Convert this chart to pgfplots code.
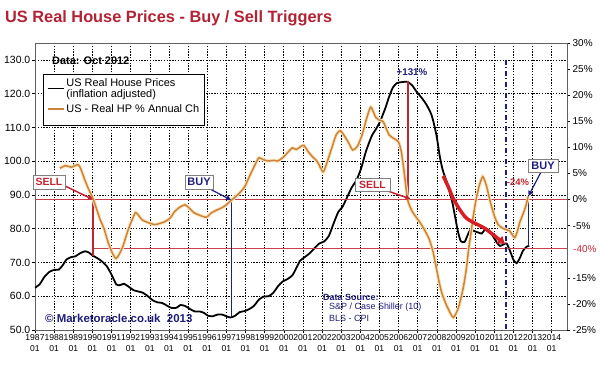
\documentclass[border=0pt]{standalone}
\usepackage{fontspec}
\setmainfont{Liberation Sans}
\usepackage{pgfplots}
\usepackage{pgfplotstable}
\pgfplotsset{compat=1.18}
\usetikzlibrary{arrows.meta}
\definecolor{titlered}{RGB}{178,34,52}
\definecolor{sellred}{RGB}{196,36,48}
\definecolor{linered}{RGB}{200,64,74}
\definecolor{navyb}{RGB}{30,30,125}
\definecolor{orangec}{RGB}{204,132,60}
\definecolor{orangeglow}{RGB}{252,228,186}
\definecolor{arrowred}{RGB}{214,30,36}

\pgfplotstableread{
x y
1987.0 62.5
1987.25 63.6
1987.5 65.8
1987.75 67.2
1988.0 67.8
1988.25 67.9
1988.45 69.2
1988.65 70.9
1988.9 71.6
1989.1 71.8
1989.35 72.7
1989.6 73.3
1989.8 73.0
1990.0 72.1
1990.25 71.3
1990.5 70.3
1990.75 68.9
1991.0 66.4
1991.25 63.5
1991.45 63.3
1991.65 63.7
1991.9 62.8
1992.15 61.8
1992.4 61.4
1992.65 61.0
1992.9 60.0
1993.15 58.8
1993.4 58.2
1993.65 58.0
1993.9 57.2
1994.15 56.5
1994.4 56.6
1994.6 57.4
1994.85 57.1
1995.1 56.2
1995.35 55.5
1995.6 55.5
1995.85 55.0
1996.05 54.2
1996.3 54.1
1996.55 54.6
1996.75 54.6
1997.0 54.1
1997.2 53.7
1997.45 54.2
1997.7 55.3
1997.95 55.6
1998.2 56.2
1998.45 57.2
1998.7 59.0
1998.95 59.9
1999.2 60.0
1999.45 61.0
1999.7 63.0
1999.95 64.4
2000.2 65.1
2000.45 66.2
2000.65 68.3
2000.85 70.5
2001.1 71.6
2001.35 72.7
2001.6 74.2
2001.85 75.6
2002.1 76.2
2002.35 77.8
2002.6 81.5
2002.85 85.0
2003.05 86.3
2003.3 89.2
2003.55 92.2
2003.8 94.4
2004.05 98.0
2004.3 103.0
2004.6 107.5
2004.85 109.8
2005.05 112.0
2005.3 115.6
2005.5 119.0
2005.7 121.8
2005.9 123.1
2006.15 123.4
2006.45 123.5
2006.7 122.5
2006.95 120.5
2007.2 118.8
2007.45 116.8
2007.7 114.0
2007.85 111.0
2008.0 107.0
2008.15 101.5
2008.3 97.5
2008.55 93.2
2008.8 88.0
2008.95 83.6
2009.1 79.2
2009.25 76.3
2009.45 76.1
2009.6 78.0
2009.75 79.6
2010.0 79.2
2010.2 78.8
2010.35 78.6
2010.55 80.0
2010.7 79.6
2010.95 77.6
2011.15 75.8
2011.3 74.9
2011.5 75.4
2011.65 75.6
2011.85 73.0
2012.0 70.8
2012.17 69.8
2012.35 71.5
2012.5 73.5
2012.7 74.7
2012.83 74.9
}\blackdata

\pgfplotstableread{
x y
1988.3 6.0
1988.6 6.5
1988.9 6.2
1989.25 6.7
1989.4 5.8
1989.6 3.8
1989.8 2.0
1990.05 0.0
1990.4 -3.8
1990.6 -5.5
1990.83 -8.3
1991.05 -10.3
1991.23 -11.3
1991.4 -10.5
1991.6 -8.9
1991.85 -6.0
1992.05 -4.1
1992.25 -2.5
1992.4 -3.0
1992.6 -3.9
1992.9 -4.4
1993.25 -4.8
1993.5 -4.6
1993.75 -4.3
1994.05 -3.6
1994.3 -2.3
1994.55 -1.5
1994.84 -1.0
1995.05 -1.6
1995.3 -2.5
1995.6 -3.0
1995.95 -3.4
1996.2 -2.6
1996.45 -2.1
1996.8 -1.5
1997.0 -1.0
1997.27 -0.1
1997.5 0.6
1997.7 1.3
1997.95 2.4
1998.2 4.4
1998.45 6.3
1998.7 8.0
1998.95 7.6
1999.2 7.4
1999.5 7.5
1999.7 7.4
2000.0 8.2
2000.2 9.0
2000.45 9.9
2000.65 9.6
2000.9 10.2
2001.05 10.4
2001.25 9.3
2001.5 8.2
2001.75 7.3
2002.05 5.3
2002.25 7.0
2002.5 9.8
2002.75 12.5
2002.95 13.2
2003.15 12.3
2003.4 10.8
2003.6 9.5
2003.85 10.2
2004.1 12.5
2004.35 15.8
2004.55 17.7
2004.8 15.8
2005.0 15.2
2005.2 14.9
2005.5 12.4
2005.8 11.6
2006.0 11.0
2006.15 9.0
2006.3 5.0
2006.47 0.0
2006.7 -2.2
2006.9 -3.3
2007.1 -4.3
2007.35 -5.8
2007.6 -7.6
2007.8 -10.0
2007.95 -12.7
2008.1 -15.5
2008.25 -17.8
2008.45 -19.8
2008.6 -21.0
2008.86 -22.6
2009.1 -21.0
2009.25 -19.0
2009.4 -16.5
2009.55 -13.0
2009.66 -9.5
2009.8 -6.0
2009.9 -3.2
2010.05 0.0
2010.2 2.5
2010.4 4.4
2010.6 2.5
2010.75 0.2
2010.9 -1.9
2011.05 -3.6
2011.2 -4.8
2011.4 -5.4
2011.56 -5.7
2011.8 -6.0
2011.95 -6.8
2012.07 -7.3
2012.2 -6.2
2012.33 -4.4
2012.5 -2.8
2012.65 -1.2
2012.77 0.6
}\orangedata

\pgfplotsset{/pgf/number format/assume math mode=true}

\begin{document}
\begin{tikzpicture}
\useasboundingbox (-35bp,-35bp) rectangle (565bp,330bp);
\begin{axis}[
  at={(0,0)}, anchor=south west, scale only axis,
  width=532bp, height=287bp,
  xmin=1987, xmax=2014.8, ymin=50, ymax=135,
  xtick={1987,1988,...,2014},
  xticklabels={{1987\\01},{1988\\01},{1989\\01},{1990\\01},{1991\\01},{1992\\01},{1993\\01},{1994\\01},{1995\\01},{1996\\01},{1997\\01},{1998\\01},{1999\\01},{2000\\01},{2001\\01},{2002\\01},{2003\\01},{2004\\01},{2005\\01},{2006\\01},{2007\\01},{2008\\01},{2009\\01},{2010\\01},{2011\\01},{2012\\01},{2013\\01},{2014\\01}},
  xticklabel style={align=center, font=\fontsize{8.6}{11}\selectfont, inner sep=1bp},
  ytick={50,60,...,130},
  yticklabel style={/pgf/number format/.cd, fixed, fixed zerofill, precision=1, /tikz/.cd, font=\fontsize{10.5}{12}\selectfont, inner sep=1.5bp},
  xtick pos=bottom, ytick pos=left,
  tick align=outside, major tick length=3bp,
  tick style={black, line width=0.5bp},
  grid=major,
  grid style={black, dash pattern=on 1.5bp off 1.3bp, line width=0.6bp},
  axis line style={gray!75!black, line width=0.7bp},
]
\addplot[black, line width=1.8bp, smooth, tension=0.4] table[x=x,y=y]{\blackdata};
\draw[linered, line width=1bp] (axis cs:1987,88.636) -- (axis cs:2014.8,88.636);
\draw[linered, line width=1bp] (axis cs:1990.05,74.0) -- (axis cs:2014.8,74.0);
\draw[sellred, line width=2bp] (axis cs:1990.05,88.636) -- (axis cs:1990.05,71.8);
\draw[navyb, line width=1bp] (axis cs:1997.27,88.636) -- (axis cs:1997.27,53.8);
\draw[sellred, line width=2bp] (axis cs:2006.47,123.6) -- (axis cs:2006.47,88.636);
\draw[navyb, line width=1bp] (axis cs:2012.77,89.6) -- (axis cs:2012.77,74.9);
\draw[navyb, line width=1.4bp, dash pattern=on 5bp off 2.5bp on 1bp off 2.5bp] (axis cs:2011.62,130) -- (axis cs:2011.62,50);
\end{axis}

\begin{axis}[
  at={(0,0)}, anchor=south west, scale only axis,
  width=532bp, height=287bp,
  xmin=1987, xmax=2014.8, ymin=-25, ymax=30,
  axis x line=none, axis y line*=right,
  ytick={-25,-20,-15,-5,0,5,10,15,20,25,30},
  yticklabels={-25\%,-20\%,-15\%,-5\%,0\%,5\%,10\%,15\%,20\%,25\%,30\%},
  yticklabel style={font=\fontsize{10}{12}\selectfont, inner sep=2.5bp},
  tick align=outside, major tick length=3bp,
  tick style={black, line width=0.5bp},
  axis line style={gray!75!black, line width=0.7bp},
  legend style={at={(0.015,0.892)}, anchor=north west, draw=black, line width=1.3bp,
    fill=white, font=\fontsize{11}{10.5}\selectfont, cells={anchor=west, align=left},
    inner xsep=3bp, inner ysep=2bp, row sep=2bp},
  legend image code/.code={\draw[#1] (0bp,0bp) -- (16bp,0bp);},
]
\addplot[orangeglow, line width=3.5bp, smooth, tension=0.4, forget plot] table[x=x,y=y]{\orangedata};
\addplot[orangec, line width=1.5bp, smooth, tension=0.4, forget plot] table[x=x,y=y]{\orangedata};
\addplot[arrowred, line width=3.5bp, smooth, tension=0.5, -{Triangle[length=7bp,width=9bp]}, forget plot] coordinates {
 (2008.33,4.51) (2008.59,2.50) (2008.85,0.24) (2009.2,-1.96) (2009.55,-3.58) (2009.99,-4.55) (2010.42,-5.33) (2010.86,-6.49) (2011.21,-7.53) (2011.56,-8.50)};
\addlegendimage{black, line width=1.8bp}
\addlegendentry{US Real House Prices\\(inflation adjusted)}
\addlegendimage{orangec, line width=1.5bp}
\addlegendentry{US - Real HP \% Annual Ch}
\addlegendimage{empty legend}
\addlegendentry{}
\end{axis}

\begin{scope}[shift={(-35bp,330bp)}, x=1bp, y=-1bp]
\node[anchor=west, inner sep=0, font=\fontsize{16.4}{18}\selectfont\bfseries, text=titlered] at (5,18) {US Real House Prices - Buy / Sell Triggers};
\node[anchor=west, inner sep=0, font=\fontsize{11}{12}\selectfont\bfseries] at (52,61) {Data: Oct 2012};
\node[anchor=west, inner sep=0, font=\fontsize{11.5}{12}\selectfont\bfseries, text=navyb] at (45,318) {© Marketoracle.co.uk\ \ 2013};
\node[anchor=west, inner sep=0, font=\fontsize{9}{10}\selectfont\bfseries, text=navyb] at (323,297) {Data Source:};
\node[anchor=west, inner sep=0, font=\fontsize{9}{10}\selectfont, text=navyb] at (329,307.5) {S\&P / Case Shiller (10)};
\node[anchor=west, inner sep=0, font=\fontsize{9}{10}\selectfont, text=navyb] at (329,318.5) {BLS - CPI};
\node[inner sep=0, font=\fontsize{9.8}{11}\selectfont\bfseries, text=navyb] at (412,72) {+131\%};
\node[inner sep=0, font=\fontsize{9.5}{11}\selectfont\bfseries, text=sellred] at (518,182) {-24\%};
\node[anchor=west, inner sep=0, font=\fontsize{10}{11}\selectfont, text=sellred] at (573,249) {-40\%};
\draw[sellred, line width=1.5bp, -{Triangle[length=5bp,width=5bp]}] (63,185) -- (93,199.5);
\draw[navyb, line width=1.2bp, -{Triangle[length=5bp,width=5bp]}] (208,188) -- (231,200);
\draw[sellred, line width=1.5bp, -{Triangle[length=5bp,width=5bp]}] (385,190) -- (410.5,199);
\draw[navyb, line width=1.2bp, -{Triangle[length=5bp,width=5bp]}] (541,172) -- (528.5,196);
\node[draw=gray, fill=white, line width=0.8bp, minimum width=32bp, minimum height=14bp, inner sep=0, font=\fontsize{10.5}{11}\selectfont\bfseries, text=sellred] at (49,182) {SELL};
\node[draw=gray, fill=white, line width=0.8bp, minimum width=28bp, minimum height=14bp, inner sep=0, font=\fontsize{11}{11}\selectfont\bfseries, text=navyb] at (199,182) {BUY};
\node[draw=gray, fill=white, line width=0.8bp, minimum width=35bp, minimum height=13bp, inner sep=0, font=\fontsize{10.5}{11}\selectfont\bfseries, text=sellred] at (372.5,184.5) {SELL};
\node[draw=gray, fill=white, line width=0.8bp, minimum width=30bp, minimum height=13bp, inner sep=0, font=\fontsize{11}{11}\selectfont\bfseries, text=navyb] at (543,166) {BUY};
\end{scope}
\end{tikzpicture}
\end{document}
